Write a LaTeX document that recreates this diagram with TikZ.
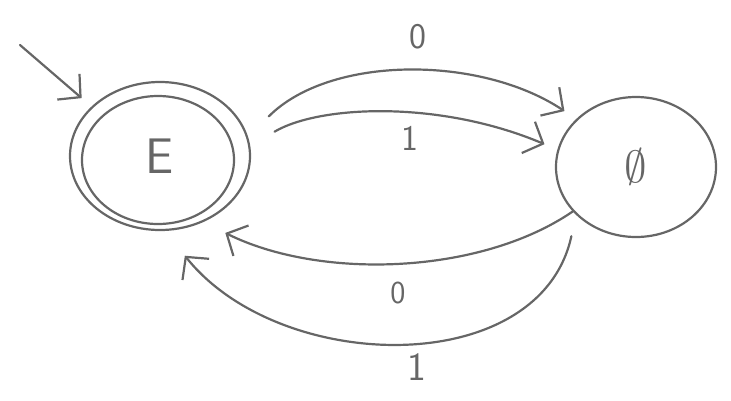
\documentclass[tikz,border=0pt]{standalone}
\usetikzlibrary{shapes.geometric,arrows.meta}
\definecolor{pencil}{HTML}{666666}
\begin{document}
\begin{tikzpicture}[x=1pt,y=-1pt,
  state/.style={draw=pencil, ellipse, inner sep=0pt, line width=2.2pt},
  lbl/.style={text=pencil, font=\sffamily},
  arr/.style={draw=pencil, line width=2.2pt, -{Straight Barb[length=16pt,width=34pt]}, line cap=round}]
\useasboundingbox (0,0) rectangle (731,400);
% states
\node[state, minimum width=180pt, minimum height=148pt, outer sep=28pt,
      text=pencil, font=\sffamily\fontsize{50}{50}\selectfont] (E) at (160,156) {E};
\node[state, minimum width=152pt, minimum height=128pt] (Ein) at (158,160) {};
\node[state, minimum width=160pt, minimum height=140pt, outer sep=15pt,
      text=pencil] (Z) at (636,167) {\scalebox{4.5}{$\emptyset$}};
% initial arrow
\coordinate (start) at (20,45);
\draw[arr, shorten >=-14pt] (start) -- (E.143);
% transitions
\draw[arr] (E.20) .. controls (330,55) and (480,55) .. (Z.142);
\draw[arr] (E.12) .. controls (320,105) and (440,100) .. (Z.166);
\draw[arr, shorten <=-14pt, shorten >=-8pt] (Z.215) .. controls (480,275) and (320,280) .. (E.-48);
\draw[arr, shorten <=6pt] (Z.225) .. controls (540,380) and (280,375) .. (E.-76);
% labels
\node[lbl, font=\sffamily\fontsize{36}{36}\selectfont] (l0top) at (418,37) {0};
\node[lbl, font=\sffamily\fontsize{36}{36}\selectfont] (l1top) at (410,138) {1};
\node[lbl, font=\sffamily\fontsize{32}{32}\selectfont] (l0bot) at (398,293) {0};
\node[lbl, font=\sffamily\fontsize{40}{40}\selectfont] (l1bot) at (417,367) {1};
\end{tikzpicture}
\end{document}
